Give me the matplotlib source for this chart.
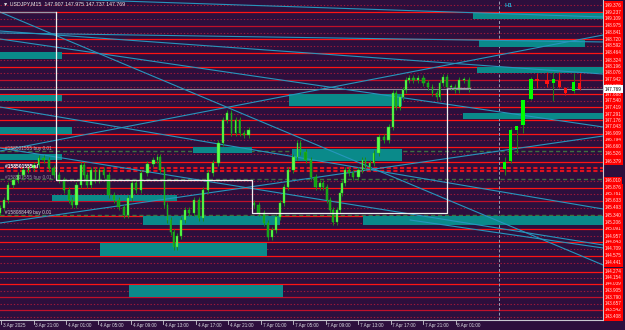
import matplotlib
matplotlib.use("Agg")
import matplotlib.pyplot as plt
import matplotlib.transforms as mtransforms
from matplotlib.patches import Rectangle

plt.rcParams['font.family'] = ['Liberation Sans', 'DejaVu Sans']

BG = "#2d0f3d"

# M15 closes (bar index, price)
m15_bar = [0, 2, 4, 7, 9, 12, 14, 17, 19, 22, 24, 27, 29, 32, 34, 35, 38, 40, 41, 43,
           45, 47, 49, 51, 54, 56, 59, 61, 63, 65, 67, 70, 73, 76, 77, 79, 81, 82, 84, 85,
           87, 89, 91, 93, 96, 98, 100, 103, 105, 108, 110, 112, 114, 116, 118, 120, 123,
           125, 128, 130, 132, 134, 136, 138, 140, 142, 145, 146, 148, 151, 153, 156, 157,
           159, 161, 162, 164, 166, 167, 168, 170, 172, 174, 177, 178, 180, 182, 184, 187,
           189, 192, 193, 195, 197, 198, 200, 201, 204, 206, 209, 211, 213, 215, 216, 218,
           220, 222, 224, 226, 229, 231]
m15_close = [145.493, 145.646, 145.933, 146.029, 146.124, 146.220, 146.258, 146.316, 146.449, 146.411,
             146.258, 146.124, 146.029, 145.837, 145.646, 145.550, 145.933, 146.316, 146.124, 145.933,
             146.220, 146.029, 146.220, 146.124, 145.742, 145.646, 145.512, 145.359, 145.684, 145.971,
             145.837, 146.163, 146.335, 146.411, 146.469, 146.220, 145.550, 145.263, 145.034, 144.747,
             144.957, 145.263, 145.455, 145.397, 145.646, 145.302, 145.837, 146.163, 146.354, 146.736,
             147.176, 147.310, 146.928, 147.176, 146.928, 146.889, 146.985, 145.550, 145.397, 145.206,
             144.938, 145.072, 145.321, 145.589, 145.895, 146.220, 146.469, 146.736, 146.564, 146.411,
             146.086, 145.895, 145.971, 145.895, 145.646, 145.455, 145.225, 145.455, 145.780, 145.971,
             146.220, 146.163, 146.086, 146.220, 146.411, 146.277, 146.354, 146.545, 146.851, 146.794,
             147.043, 147.693, 147.425, 147.616, 147.750, 147.942, 147.980, 147.942, 147.980, 147.884,
             147.808, 147.693, 147.616, 147.884, 147.999, 147.808, 147.808, 147.750, 147.942, 147.942,
             147.769]
first_open = 145.40
monday_bar = 125
monday_open = 145.589

# H1 candles drawn on the right side
h1_bar = [248, 251, 254, 257, 261, 264, 269, 272, 275, 278, 282, 285]
h1_open = [146.239, 146.392, 146.985, 147.081, 147.578, 147.961, 147.942, 147.884, 147.922, 147.789, 147.731, 147.884]
h1_close = [146.373, 146.985, 147.062, 147.559, 147.961, 147.922, 147.865, 147.961, 147.808, 147.693, 147.903, 147.769]
h1_high = [146.469, 147.023, 147.062, 147.559, 147.999, 148.076, 148.095, 148.095, 148.095, 147.808, 148.076, 148.076]
h1_low = [146.124, 146.354, 146.545, 146.928, 147.559, 147.789, 147.808, 147.540, 147.789, 147.655, 147.693, 147.750]

solid_levels = [149.237, 148.975, 148.720, 148.464, 148.196, 147.942, 147.668, 147.419, 147.176,
                146.909, 146.660, 146.379, 145.876, 145.633, 145.340, 145.091, 144.843, 144.575,
                144.274, 144.039, 143.790, 143.542]
dark_levels = [148.975, 147.942, 145.633, 143.790, 143.542]
dotted_levels = [149.376, 149.109, 148.841, 148.592, 148.324, 148.076, 147.808, 147.540, 147.291,
                 147.043, 146.794, 146.526, 146.010, 145.761, 145.493, 145.206, 144.957, 144.709,
                 144.441, 144.154, 143.905, 143.657, 143.408]
sl_levels = [146.249, 146.191]
order_levels = [146.589, 146.048, 145.359]
bid = 147.769

# zones: (bar start, bar end, low, high)
zone_x0 = [-0.5, -0.5, -0.5, -0.5, 25.1, 70.0, 178.3, 48.8, 63.1, 141.9, 232.5, 235.5, 234.5, 94.6, 143.3, 227.6]
zone_x1 = [30.0, 30.0, 35.0, 30.0, 86.7, 137.4, 296.5, 131.0, 138.9, 197.5, 296.5, 287.7, 296.5, 123.6, 197.5, 296.5]
zone_lo = [148.343, 147.540, 146.909, 146.411, 145.627, 145.168, 145.168, 144.575, 143.790, 147.444,
           149.109, 148.573, 148.076, 146.545, 146.392, 147.196]
zone_hi = [148.477, 147.655, 147.043, 146.526, 145.742, 145.340, 145.340, 144.823, 144.020, 147.674,
           149.223, 148.707, 148.190, 146.660, 146.622, 147.310]

# trend lines: (bar0, price0, bar1, price1)
tl_x0 = [-0.5, -0.5, -0.5, -0.5, -0.5, -0.5, -0.5, -0.5, -0.5, 201.5]
tl_y0 = [149.242, 148.841, 148.879, 149.529, 146.583, 147.425, 146.641, 145.206, 148.726, 145.263]
tl_x1 = [296.5] * 10
tl_y1 = [144.403, 148.669, 148.056, 149.147, 148.802, 145.474, 144.785, 146.870, 147.043, 144.728]

# white step line (range box)
step_x = [-0.5, 27.1, 27.1, 123.6, 123.6, 219.7, 219.7, 231.0]
step_y = [149.242, 149.242, 146.029, 146.029, 145.397, 145.397, 147.789, 147.789]

time_bar = [0, 16, 32, 48, 64, 80, 96, 112, 128, 144, 160, 176, 192, 208, 224]
time_lab = ["3 Apr 2025", "3 Apr 21:00", "4 Apr 01:00", "4 Apr 05:00", "4 Apr 09:00",
            "4 Apr 13:00", "4 Apr 17:00", "4 Apr 21:00", "7 Apr 01:00", "7 Apr 05:00",
            "7 Apr 09:00", "7 Apr 13:00", "7 Apr 17:00", "7 Apr 21:00", "8 Apr 01:00"]

fig = plt.figure(figsize=(6.25, 3.3), dpi=100, facecolor=BG)
ax = fig.add_axes([0, 10 / 330, 603 / 625, 320 / 330], facecolor=BG)
ax.set_xlim(-0.5, 296.5)
ax.set_ylim(143.35, 149.472)
ax.set_xticks([])
ax.set_yticks([])
for s in ['top', 'left']:
    ax.spines[s].set_visible(False)
for s in ['right', 'bottom']:
    ax.spines[s].set_color('#c8c8d0')
    ax.spines[s].set_linewidth(0.8)

for lv in dotted_levels:
    ax.axhline(lv, color='#a0183a', lw=0.8, ls=(0, (1.2, 1.8)), zorder=1)
for lv in solid_levels:
    c = '#c0102a' if lv in dark_levels else '#ff1414'
    ax.axhline(lv, color=c, lw=0.9, zorder=1)
for lv in sl_levels:
    ax.axhline(lv, color='#e0101e', lw=1.5, ls=(0, (2, 1.2)), zorder=1)
for lv in order_levels:
    ax.axhline(lv, color='#3f7040', lw=1.0, ls=(0, (3, 2)), zorder=1)
ax.axhline(bid, color='#8a8a98', lw=0.8, zorder=1)
ax.axvline(245.3, color='#9a9ab0', lw=0.7, ls=(0, (3, 2)), zorder=1)

for x0, x1, lo, hi in zip(zone_x0, zone_x1, zone_lo, zone_hi):
    ax.add_patch(Rectangle((x0, lo), x1 - x0, hi - lo, fc='#0a8a8a', ec='none', zorder=2))

for x0, y0, x1, y1 in zip(tl_x0, tl_y0, tl_x1, tl_y1):
    ax.plot([x0, x1], [y0, y1], color='#2696bd', lw=0.8, zorder=3)

# M15 candles
prev = first_open
prev_bar = -2
for b, c in zip(m15_bar, m15_close):
    o = monday_open if b == monday_bar else prev
    gap = b - prev_bar
    w = max(gap * 0.45, 0.8)
    xc = b - gap / 2 + 0.5
    lo, hi = min(o, c), max(o, c)
    up = c >= o
    ax.vlines(xc, lo - 0.05, hi + 0.05, color='#1b8a1b', lw=0.7, zorder=4)
    ax.bar(xc, max(hi - lo, 0.01), width=w, bottom=lo,
           color='#5cff4a' if up else '#14a014',
           edgecolor='#24c824', linewidth=0.3, zorder=5)
    prev = c
    prev_bar = b

# H1 candles
for b, o, c, h, l in zip(h1_bar, h1_open, h1_close, h1_high, h1_low):
    up = c >= o
    ax.vlines(b, l, h, color='#1f7a1f' if up else '#e01010', lw=0.8, zorder=4)
    ax.bar(b, max(abs(c - o), 0.012), width=1.7, bottom=min(o, c),
           color='#00ff00' if up else '#ff1010', edgecolor='none', zorder=5)

ax.plot(step_x[:2], step_y[:2], color='#9a9aa8', lw=0.9, zorder=6)
ax.plot(step_x[1:7], step_y[1:7], color='#f0f0f0', lw=0.9, zorder=6)
ax.plot(step_x[6:], step_y[6:], color='#9a9aa8', lw=0.9, zorder=6)

# texts
ax.text(1.2, 149.40, "\u25bc USDJPY,M15  147.907 147.975 147.737 147.769", fontsize=3.8,
        color='#e8e8e8', va='center', ha='left', zorder=8)
ax.text(248, 149.36, "H1", fontsize=4.6, color='#2a9cc2', fontweight='bold', va='center', zorder=8)
ax.text(2, 146.64, "#158501555 buy 0.01", fontsize=3.4, color='#b8b8c0', va='center', zorder=8)
ax.text(2, 146.28, "#158501555 sl", fontsize=3.6, color='#ffffff', fontweight='bold', va='center', zorder=8)
ax.text(2, 146.08, "#158501555 buy 0.01", fontsize=3.4, color='#9a8aa0', va='center', zorder=8)
ax.text(2, 145.40, "#158088449 buy 0.01", fontsize=3.4, color='#d8d8d8', va='center', zorder=8)

tr_y = mtransforms.blended_transform_factory(ax.transAxes, ax.transData)
for lv in sorted(solid_levels + dotted_levels):
    ax.text(1.003, lv, "%.3f" % lv, transform=tr_y, fontsize=3.3, color='#ffe0e0',
            va='center', ha='left', clip_on=False, zorder=9,
            bbox=dict(boxstyle='square,pad=0.25', fc='#ff0000', ec='none'))
ax.text(1.003, bid, "%.3f" % bid, transform=tr_y, fontsize=3.3, color='#000000',
        va='center', ha='left', clip_on=False, zorder=10,
        bbox=dict(boxstyle='square,pad=0.25', fc='#ffffff', ec='none'))

tr_x = mtransforms.blended_transform_factory(ax.transData, ax.transAxes)
for b, lab in zip(time_bar, time_lab):
    ax.plot([b, b], [0, -0.012], color='#c8c8d0', lw=0.6, transform=tr_x, clip_on=False)
    ax.text(b + 0.8, -0.008, lab, transform=tr_x, fontsize=3.3, color='#d8d8e0',
            va='top', ha='left', clip_on=False)

fig.savefig("out.png", dpi=100, facecolor=BG)
